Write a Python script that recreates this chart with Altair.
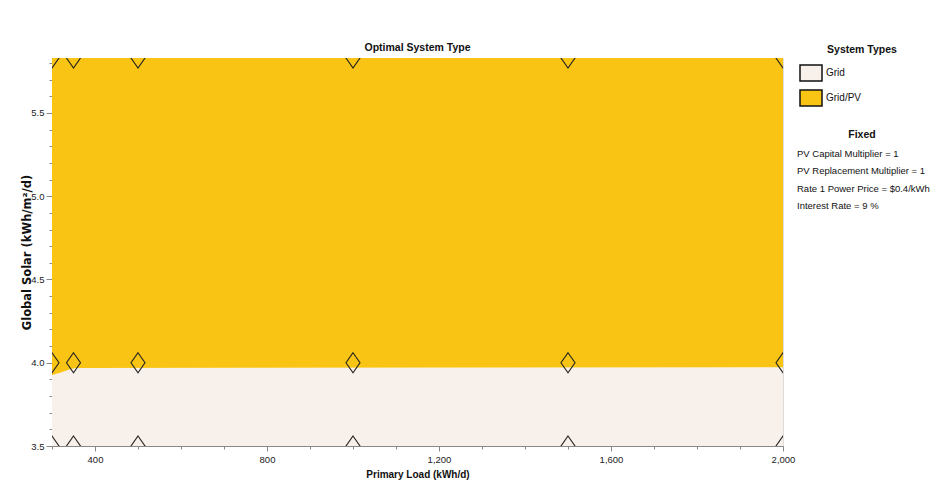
import altair as alt
import pandas as pd

# ---- data ----
primary_load = [300, 350, 500, 1000, 1500, 2000]          # sensitivity cases (kWh/d)
global_solar = [3.5, 4.0, 5.83]                            # sensitivity cases (kWh/m2/d)
boundary_load = [300, 319, 337, 354, 2000]                 # Grid / Grid-PV frontier
boundary_solar = [3.926, 3.94, 3.956, 3.968, 3.973]
system_types = ["Grid", "Grid/PV"]
type_colors = ["#F8F0EA", "#F9C414"]
fixed_params = [
    "PV Capital Multiplier = 1",
    "PV Replacement Multiplier = 1",
    "Rate 1 Power Price = $0.4/kWh",
    "Interest Rate = 9 %",
]
x_ticks = list(range(300, 2001, 100))
y_ticks = [round(3.5 + 0.1 * i, 1) for i in range(24)]

solar_min, solar_max = 3.5, 5.83
load_min, load_max = 300, 2000

rows = []
for l, b in zip(boundary_load, boundary_solar):
    rows.append({"load": l, "low": solar_min, "high": b, "type": "Grid"})
    rows.append({"load": l, "low": b, "high": solar_max, "type": "Grid/PV"})
area_df = pd.DataFrame(rows)

pts_df = pd.DataFrame([{"load": l, "solar": s} for l in primary_load for s in global_solar])

SANS = "Liberation Sans, Arial, sans-serif"
WIDE = "DejaVu Sans, Verdana, sans-serif"

W, H = 731, 388

x_scale = alt.Scale(domain=[load_min, load_max], nice=False, zero=False)
y_scale = alt.Scale(domain=[solar_min, solar_max], nice=False, zero=False)

x_axis = alt.Axis(
    values=x_ticks,
    labelExpr="datum.value % 400 == 0 ? format(datum.value, ',') : ''",
    tickSize={"condition": {"test": "datum.value % 400 == 0", "value": 5}, "value": 3},
    labelPadding=3,
    labelFlush=False,
    labelOverlap=False,
    labelFont=SANS,
    labelFontSize=9.5,
    labelColor="#222",
    titleFont=SANS,
    titleFontSize=10,
    titleFontWeight="bold",
    titleColor="#111",
    titleBaseline="middle",
    titleY=28,
    grid=False,
    orient="bottom",
)
y_axis = alt.Axis(
    values=y_ticks,
    labelExpr="abs(datum.value * 2 - round(datum.value * 2)) < 0.01 ? format(datum.value, '.1f') : ''",
    tickSize={"condition": {"test": "abs(datum.value * 2 - round(datum.value * 2)) < 0.01", "value": 6}, "value": 3},
    labelPadding=2,
    labelFlush=False,
    labelOverlap=False,
    labelFont=SANS,
    labelFontSize=9.5,
    labelColor="#222",
    titleFont=WIDE,
    titleFontSize=11.5,
    titleFontWeight="bold",
    titleColor="#111",
    titleAngle=270,
    titleBaseline="middle",
    titleAlign="center",
    titleX=-25,
    titleY=H / 2,
    grid=False,
    orient="left",
)

areas = alt.Chart(area_df).mark_area(clip=True, interpolate="linear").encode(
    x=alt.X("load:Q", scale=x_scale, axis=x_axis, title="Primary Load (kWh/d)"),
    y=alt.Y("high:Q", scale=y_scale, axis=y_axis, title="Global Solar  (kWh/m²/d)"),
    y2="low:Q",
    color=alt.Color(
        "type:N",
        scale=alt.Scale(domain=system_types, range=type_colors),
        legend=alt.Legend(
            title=None,
            orient="none",
            legendX=747,
            legendY=3,
            symbolType="M-1,-0.72L1,-0.72L1,0.72L-1,0.72Z",
            symbolSize=484,
            symbolStrokeColor="#111",
            symbolStrokeWidth=1.5,
            symbolOpacity=1,
            labelFont=SANS,
            labelFontSize=10,
            labelColor="#111",
            labelOffset=3,
            rowPadding=2,
            padding=0,
        ),
    ),
    order=alt.Order("type:N"),
)

points = alt.Chart(pts_df).mark_point(
    shape="M0,-1.43L1,0L0,1.43L-1,0Z",
    size=196,
    filled=False,
    stroke="#222",
    strokeWidth=1.1,
    opacity=1,
    clip=True,
).encode(
    x=alt.X("load:Q", scale=x_scale, axis=x_axis, title="Primary Load (kWh/d)"),
    y=alt.Y("solar:Q", scale=y_scale, axis=y_axis, title="Global Solar  (kWh/m²/d)"),
)

def heading(txt, x, y):
    return alt.Chart(pd.DataFrame({"t": [txt]})).mark_text(
        font=SANS, fontSize=10.5, fontWeight="bold", color="#111", align="center", baseline="middle"
    ).encode(text="t:N", x=alt.value(x), y=alt.value(y))

title = heading("Optimal System Type", W / 2, -10)
head1 = heading("System Types", 810, -8)
head2 = heading("Fixed", 810, 77)

fixed = alt.Chart(pd.DataFrame({"t": ["\n".join(fixed_params)]})).mark_text(
    font=SANS, fontSize=9.5, color="#111", align="left", baseline="top",
    lineBreak="\n", lineHeight=17.4,
).encode(text="t:N", x=alt.value(745), y=alt.value(91))

chart = alt.layer(areas, points, title, head1, head2, fixed).properties(
    width=W,
    height=H,
    autosize=alt.AutoSizeParams(type="none"),
    padding={"left": 44, "top": 50, "right": 150, "bottom": 36},
).configure_view(
    stroke="#444", strokeWidth=1.5
).configure_axis(
    domainColor="#444", domainWidth=1.5, tickColor="#444", tickWidth=1
).configure(background="white")

chart.save("out.html", embed_options={"renderer": "svg", "actions": False})
